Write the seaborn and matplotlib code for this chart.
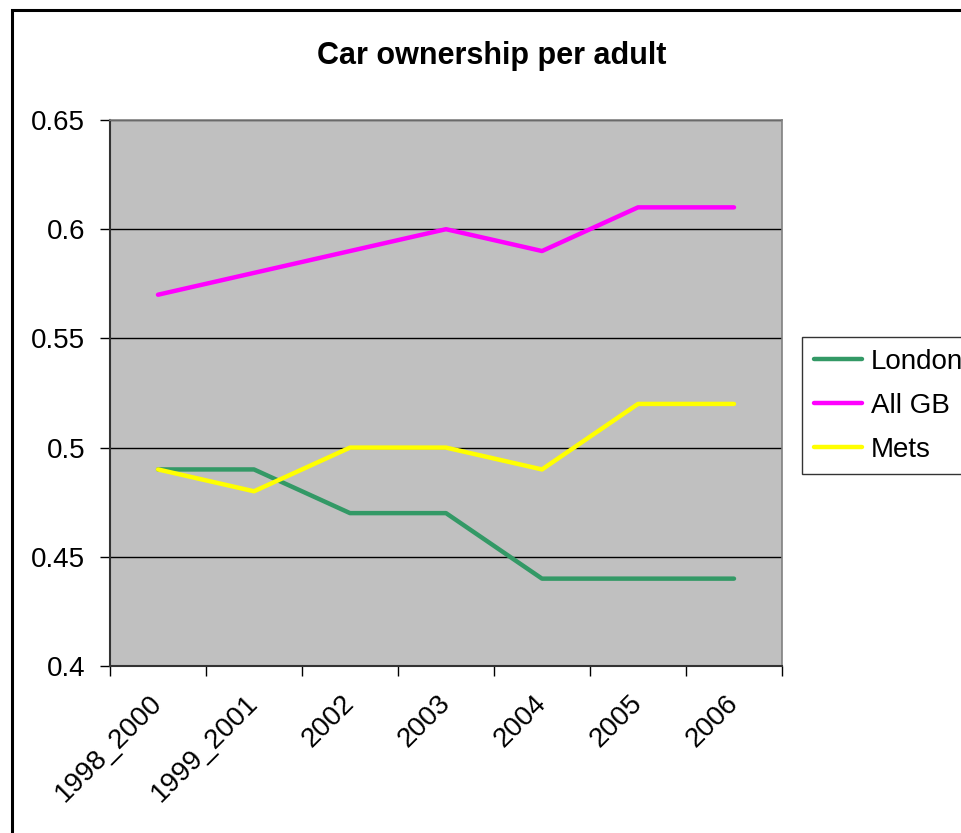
import matplotlib
matplotlib.use("Agg")
import matplotlib.pyplot as plt
import seaborn as sns
import pandas as pd
from matplotlib.patches import Rectangle
from matplotlib.lines import Line2D

# Data
periods = ["1998_2000", "1999_2001", "2002", "2003", "2004", "2005", "2006"]
london = [0.49, 0.49, 0.47, 0.47, 0.44, 0.44, 0.44]
all_gb = [0.57, 0.58, 0.59, 0.60, 0.59, 0.61, 0.61]
mets = [0.49, 0.48, 0.50, 0.50, 0.49, 0.52, 0.52]
y_ticks = [0.4, 0.45, 0.5, 0.55, 0.6, 0.65]
y_tick_labels = ["0.4", "0.45", "0.5", "0.55", "0.6", "0.65"]

series_names = ["London", "All GB", "Mets"]
palette = {"London": "#339966", "All GB": "#FF00FF", "Mets": "#FFFF00"}

df = pd.DataFrame({"period": periods, "London": london, "All GB": all_gb, "Mets": mets})
long_df = df.melt(id_vars="period", var_name="series", value_name="value")
long_df["x"] = long_df["period"].map({p: i for i, p in enumerate(periods)})

sns.set_theme(style="white", rc={"text.color": "black", "axes.labelcolor": "black",
                                 "xtick.color": "black", "ytick.color": "black"})
plt.rcParams["font.family"] = ["Liberation Sans", "DejaVu Sans"]

W, H = 961, 833
fig = plt.figure(figsize=(W / 100, H / 100), dpi=100)
fig.patch.set_facecolor("white")

left, right, top, bottom = 110, 782, 120, 666
ax = fig.add_axes([left / W, 1 - bottom / H, (right - left) / W, (bottom - top) / H])
ax.set_facecolor("#C0C0C0")

sns.lineplot(data=long_df, x="x", y="value", hue="series", hue_order=series_names,
             palette=palette, linewidth=3.2, ax=ax, legend=False, sort=False)

ax.set_xlim(-0.5, len(periods) - 0.5)
ax.set_ylim(0.4, 0.65)
ax.set_yticks(y_ticks)
ax.set_yticklabels(y_tick_labels)
ax.set_xticks([i - 0.5 for i in range(len(periods) + 1)])
ax.set_xticklabels([])
ax.set_xticks(range(len(periods)), minor=True)
ax.set_xticklabels(periods, minor=True, rotation=45, ha="right", va="center",
                   rotation_mode="anchor", fontsize=20)
ax.tick_params(axis="x", which="minor", length=0, pad=24)
ax.tick_params(axis="x", which="major", length=7, width=1, color="black", direction="out", bottom=True)
ax.tick_params(axis="y", length=7, width=1, color="black", direction="out", left=True,
               labelsize=20, pad=11)
ax.set_xlabel("")
ax.set_ylabel("")

ax.grid(axis="y", color="black", linewidth=1)
ax.set_axisbelow(True)

for side in ["top", "right"]:
    ax.spines[side].set_color("#808080")
    ax.spines[side].set_linewidth(1.2)
for side in ["left", "bottom"]:
    ax.spines[side].set_color("#333333")
    ax.spines[side].set_linewidth(1.5)

fig.text(492 / W, 1 - 56 / H, "Car ownership per adult", ha="center", va="center",
         fontsize=22, fontweight="bold")

# Legend box on the right
handles = [Line2D([0], [0], color=palette[n], linewidth=3.2) for n in series_names]
leg = fig.legend(handles, series_names, loc="upper left",
                 bbox_to_anchor=(802 / W, 1 - 337 / H), fontsize=20,
                 frameon=True, fancybox=False, edgecolor="black",
                 handlelength=1.75, handletextpad=0.3, borderpad=0.42,
                 labelspacing=0.65, borderaxespad=0)
leg.get_frame().set_linewidth(1.0)

# Outer chart border
fig.patches.append(Rectangle((12 / W, -0.1), 1.2, 1 - 10 / H + 0.1, transform=fig.transFigure,
                             fill=False, edgecolor="black", linewidth=2.2))

fig.savefig("out.png", dpi=100)
